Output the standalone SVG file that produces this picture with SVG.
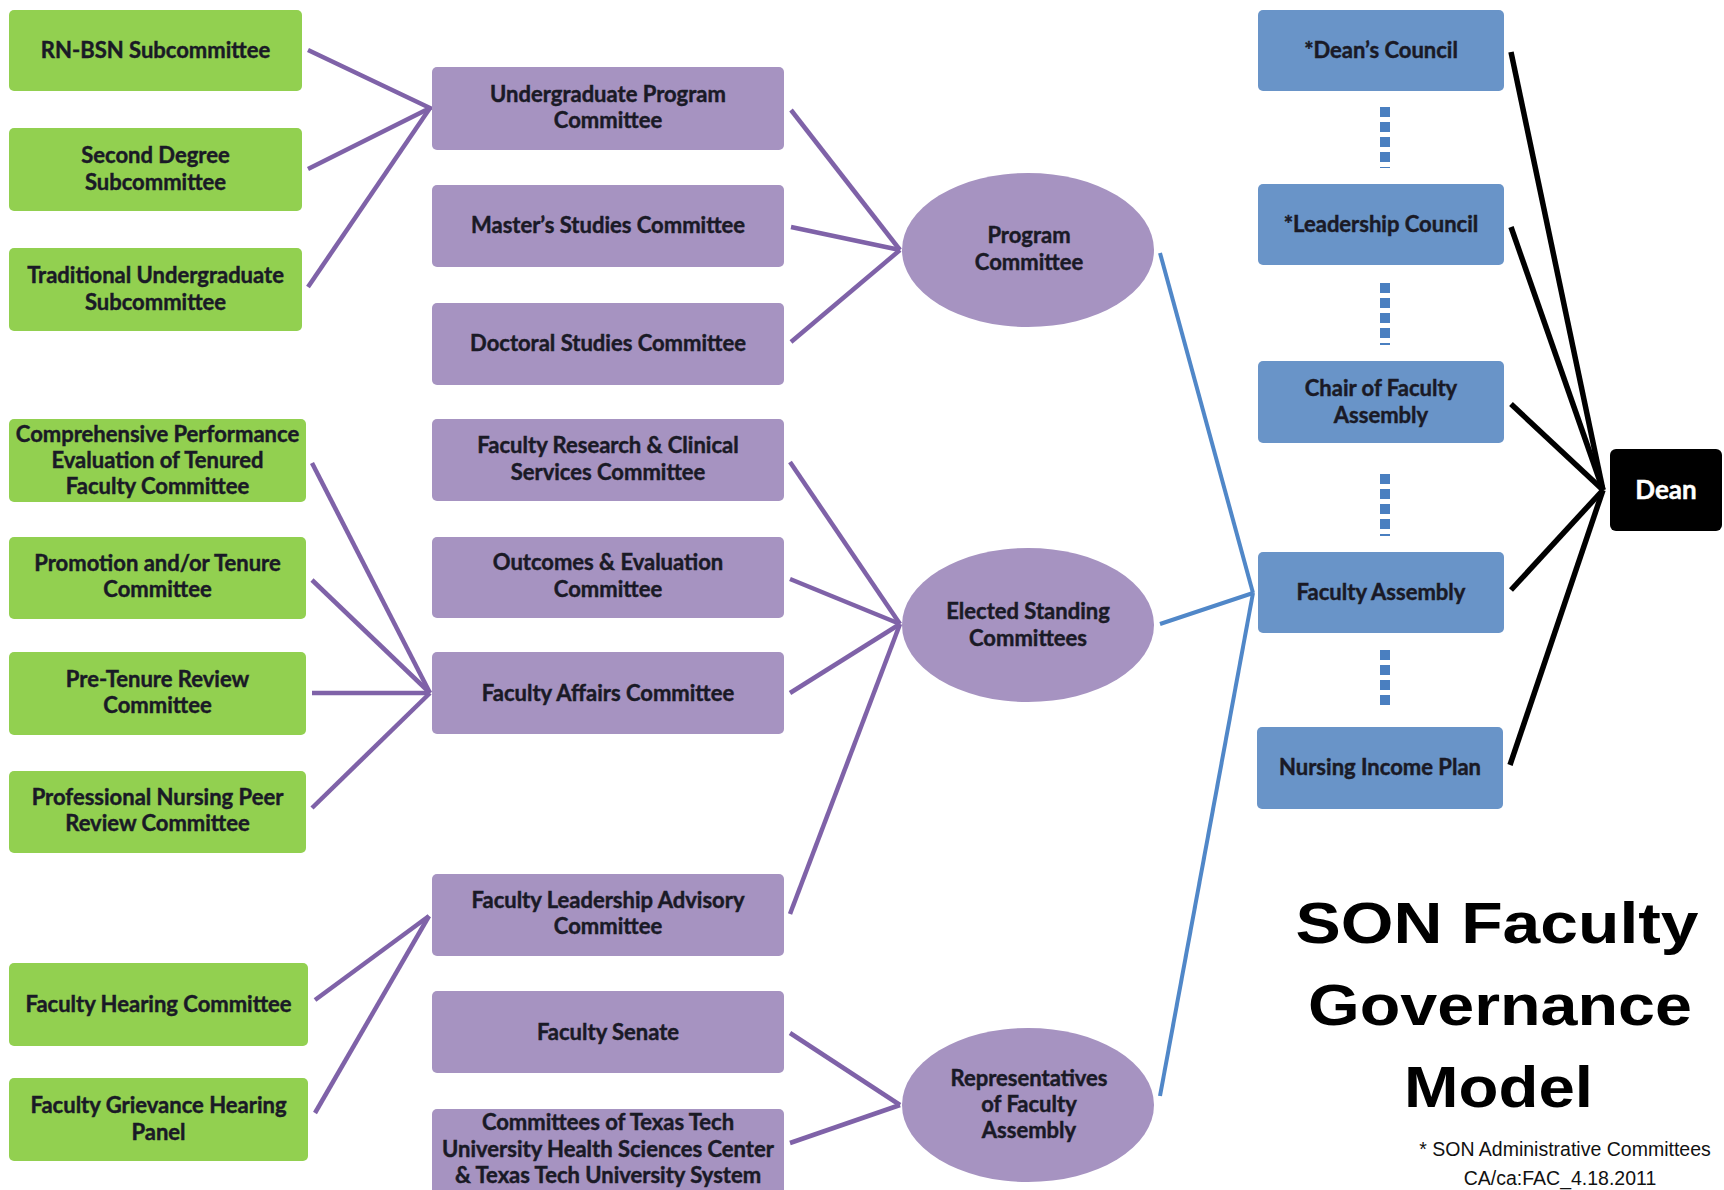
<svg xmlns="http://www.w3.org/2000/svg" width="1724" height="1190" viewBox="0 0 1724 1190">
<style>
.g{fill:#92d050}
.p{fill:#a693c1}
.b{fill:#6994c8}
.t{font-family:Lato,"Open Sans","Liberation Sans",sans-serif;font-weight:700;font-size:22px;fill:#1a1a26;stroke:#1a1a26;stroke-width:0.45;text-anchor:middle}
.w{fill:#ffffff;stroke:#ffffff;font-size:26px}
.pl{stroke:#7f62a8;stroke-width:4.5;fill:none;stroke-linecap:butt}
.bl{stroke:#5087c8;stroke-width:4;fill:none}
.kl{stroke:#000;stroke-width:5.5;fill:none}
.dl{stroke:#4a7fc0;stroke-width:10;stroke-dasharray:10 5;fill:none}
.title{font-family:"Liberation Sans",Arial,sans-serif;font-weight:700;font-size:58px;fill:#000;text-anchor:middle}
.note{font-family:"Liberation Sans",Arial,sans-serif;font-size:19.5px;fill:#111;text-anchor:middle}
</style>
<rect width="1724" height="1190" fill="#ffffff"/>
<g id="connectors">
<polyline class="pl" points="308,50 430,108 308,169"/>
<line class="pl" x1="308" y1="287" x2="430" y2="108"/>
<line class="pl" x1="791" y1="110" x2="900" y2="250"/>
<line class="pl" x1="791" y1="227" x2="900" y2="250"/>
<line class="pl" x1="791" y1="342" x2="900" y2="250"/>
<line class="pl" x1="312" y1="463" x2="430" y2="693"/>
<line class="pl" x1="312" y1="580" x2="430" y2="693"/>
<line class="pl" x1="312" y1="693" x2="430" y2="693"/>
<line class="pl" x1="312" y1="808" x2="430" y2="693"/>
<line class="pl" x1="790" y1="462" x2="900" y2="624"/>
<line class="pl" x1="790" y1="579" x2="900" y2="624"/>
<line class="pl" x1="790" y1="693" x2="900" y2="624"/>
<line class="pl" x1="790" y1="914" x2="900" y2="624"/>
<line class="pl" x1="315" y1="1000" x2="429" y2="916"/>
<line class="pl" x1="315" y1="1113" x2="429" y2="916"/>
<line class="pl" x1="790" y1="1033" x2="900" y2="1105"/>
<line class="pl" x1="790" y1="1143" x2="900" y2="1105"/>
<line class="bl" x1="1160" y1="253" x2="1253" y2="593"/>
<line class="bl" x1="1160" y1="624" x2="1253" y2="593"/>
<line class="bl" x1="1160" y1="1096" x2="1253" y2="593"/>
<line class="kl" x1="1511" y1="52" x2="1603" y2="490"/>
<line class="kl" x1="1511" y1="227" x2="1603" y2="490"/>
<line class="kl" x1="1511" y1="404" x2="1603" y2="490"/>
<line class="kl" x1="1511" y1="590" x2="1603" y2="490"/>
<line class="kl" x1="1510" y1="765" x2="1603" y2="490"/>
<line class="dl" x1="1385" y1="107" x2="1385" y2="168"/>
<line class="dl" x1="1385" y1="283" x2="1385" y2="345"/>
<line class="dl" x1="1385" y1="474" x2="1385" y2="536"/>
<line class="dl" x1="1385" y1="650" x2="1385" y2="710"/>
</g>
<g id="rn-bsn"><rect class="g" x="9" y="10" width="293" height="81" rx="5"/><text class="t" x="155.5" y="58">RN-BSN Subcommittee</text></g>
<g id="second-degree"><rect class="g" x="9" y="128" width="293" height="83" rx="5"/><text class="t" x="155.5" y="163">Second Degree<tspan x="155.5" dy="27">Subcommittee</tspan></text></g>
<g id="traditional"><rect class="g" x="9" y="248" width="293" height="83" rx="5"/><text class="t" x="155.5" y="283">Traditional Undergraduate<tspan x="155.5" dy="27">Subcommittee</tspan></text></g>
<g id="comprehensive"><rect class="g" x="9" y="419" width="297" height="83" rx="5"/><text class="t" x="157.5" y="442">Comprehensive Performance<tspan x="157.5" dy="26">Evaluation of Tenured</tspan><tspan x="157.5" dy="26">Faculty Committee</tspan></text></g>
<g id="promotion"><rect class="g" x="9" y="537" width="297" height="82" rx="5"/><text class="t" x="157.5" y="571">Promotion and/or Tenure<tspan x="157.5" dy="26">Committee</tspan></text></g>
<g id="pre-tenure"><rect class="g" x="9" y="652" width="297" height="83" rx="5"/><text class="t" x="157.5" y="687">Pre-Tenure Review<tspan x="157.5" dy="26">Committee</tspan></text></g>
<g id="peer-review"><rect class="g" x="9" y="771" width="297" height="82" rx="5"/><text class="t" x="157.5" y="805">Professional Nursing Peer<tspan x="157.5" dy="26">Review Committee</tspan></text></g>
<g id="hearing"><rect class="g" x="9" y="963" width="299" height="83" rx="5"/><text class="t" x="158.5" y="1012">Faculty Hearing Committee</text></g>
<g id="grievance"><rect class="g" x="9" y="1078" width="299" height="83" rx="5"/><text class="t" x="158.5" y="1113">Faculty Grievance Hearing<tspan x="158.5" dy="27">Panel</tspan></text></g>
<g id="undergrad-program"><rect class="p" x="432" y="67" width="352" height="83" rx="5"/><text class="t" x="608" y="102">Undergraduate Program<tspan x="608" dy="26">Committee</tspan></text></g>
<g id="masters"><rect class="p" x="432" y="185" width="352" height="82" rx="5"/><text class="t" x="608" y="233">Master’s Studies Committee</text></g>
<g id="doctoral"><rect class="p" x="432" y="303" width="352" height="82" rx="5"/><text class="t" x="608" y="351">Doctoral Studies Committee</text></g>
<g id="research"><rect class="p" x="432" y="419" width="352" height="82" rx="5"/><text class="t" x="608" y="453">Faculty Research &amp; Clinical<tspan x="608" dy="27">Services Committee</tspan></text></g>
<g id="outcomes"><rect class="p" x="432" y="537" width="352" height="81" rx="5"/><text class="t" x="608" y="570">Outcomes &amp; Evaluation<tspan x="608" dy="27">Committee</tspan></text></g>
<g id="affairs"><rect class="p" x="432" y="652" width="352" height="82" rx="5"/><text class="t" x="608" y="701">Faculty Affairs Committee</text></g>
<g id="leadership-advisory"><rect class="p" x="432" y="874" width="352" height="82" rx="5"/><text class="t" x="608" y="908">Faculty Leadership Advisory<tspan x="608" dy="26">Committee</tspan></text></g>
<g id="senate"><rect class="p" x="432" y="991" width="352" height="82" rx="5"/><text class="t" x="608" y="1040">Faculty Senate</text></g>
<g id="texas-tech"><rect class="p" x="432" y="1109" width="352" height="90" rx="5"/><text class="t" x="608" y="1130">Committees of Texas Tech<tspan x="608" dy="26.5">University Health Sciences Center</tspan><tspan x="608" dy="26">&amp; Texas Tech University System</tspan></text></g>
<g id="program-committee"><ellipse class="p" cx="1028" cy="250" rx="126" ry="77"/><text class="t" x="1029" y="243">Program<tspan x="1029" dy="27">Committee</tspan></text></g>
<g id="elected-standing"><ellipse class="p" cx="1028" cy="625" rx="126" ry="77"/><text class="t" x="1028" y="619">Elected Standing<tspan x="1028" dy="27">Committees</tspan></text></g>
<g id="representatives"><ellipse class="p" cx="1028" cy="1105" rx="126" ry="77"/><text class="t" x="1029" y="1086">Representatives<tspan x="1029" dy="26">of Faculty</tspan><tspan x="1029" dy="26">Assembly</tspan></text></g>
<g id="deans-council"><rect class="b" x="1258" y="10" width="246" height="81" rx="5"/><text class="t" x="1381" y="58">*Dean’s Council</text></g>
<g id="leadership-council"><rect class="b" x="1258" y="184" width="246" height="81" rx="5"/><text class="t" x="1381" y="232">*Leadership Council</text></g>
<g id="chair"><rect class="b" x="1258" y="361" width="246" height="82" rx="5"/><text class="t" x="1381" y="396">Chair of Faculty<tspan x="1381" dy="27">Assembly</tspan></text></g>
<g id="faculty-assembly"><rect class="b" x="1258" y="552" width="246" height="81" rx="5"/><text class="t" x="1381" y="600">Faculty Assembly</text></g>
<g id="nursing-income"><rect class="b" x="1257" y="727" width="246" height="82" rx="5"/><text class="t" x="1380" y="775">Nursing Income Plan</text></g>
<g id="dean"><rect x="1610" y="449" width="112" height="82" rx="6" fill="#000"/><text class="t w" x="1666" y="499">Dean</text></g>
<g id="title">
<text class="title" x="1497" y="943" textLength="403" lengthAdjust="spacingAndGlyphs">SON Faculty</text>
<text class="title" x="1500" y="1025" textLength="384" lengthAdjust="spacingAndGlyphs">Governance</text>
<text class="title" x="1498.5" y="1107" textLength="189" lengthAdjust="spacingAndGlyphs">Model</text>
<text class="note" x="1565" y="1156">* SON Administrative Committees</text>
<text class="note" x="1560" y="1185">CA/ca:FAC_4.18.2011</text>
</g>
</svg>
